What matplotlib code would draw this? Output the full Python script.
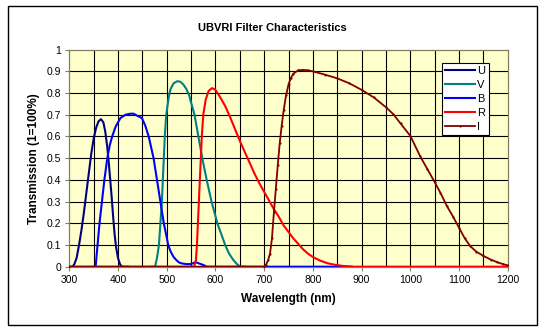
import matplotlib.pyplot as plt
from matplotlib.patches import Rectangle

plt.rcParams['font.family'] = ['Liberation Sans', 'DejaVu Sans']

# Filter transmission curves
u_nm = [300, 306, 310, 315, 320, 325, 330, 335, 340, 345, 350, 355, 360, 365, 370,
        374, 378, 381, 384, 387, 390, 393, 396, 400, 404, 408, 420]
u_t = [0, 0, 0.01, 0.04, 0.1, 0.17, 0.25, 0.34, 0.43, 0.52, 0.59, 0.64, 0.67, 0.68, 0.665,
       0.62, 0.55, 0.48, 0.40, 0.32, 0.23, 0.15, 0.09, 0.04, 0.012, 0, 0]

v_nm = [470, 476, 480, 484, 487, 490, 492, 494, 496, 499, 504, 508, 514, 522, 528, 534,
        540, 546, 552, 557, 565, 573, 582, 592, 604, 612, 620, 628, 637, 645, 651, 660]
v_t = [0, 0, 0.04, 0.1, 0.2, 0.3, 0.4, 0.5, 0.6, 0.7, 0.78, 0.82, 0.845, 0.855, 0.852, 0.84,
       0.82, 0.79, 0.74, 0.7, 0.6, 0.5, 0.4, 0.3, 0.2, 0.15, 0.1, 0.06, 0.03, 0.01, 0, 0]

b_nm = [350, 354, 356, 358, 362, 367, 372, 378, 383, 388, 395, 405, 415, 425, 432, 440,
        449, 456, 463, 468, 473, 480, 487, 494, 500, 503, 508, 514, 520, 525, 531, 540,
        548, 553, 558, 563, 570, 575, 582, 880]
b_t = [0, 0, 0.05, 0.1, 0.2, 0.3, 0.4, 0.5, 0.56, 0.6, 0.645, 0.685, 0.7, 0.705, 0.705, 0.695,
       0.685, 0.65, 0.6, 0.55, 0.5, 0.4, 0.3, 0.2, 0.135, 0.1, 0.07, 0.045, 0.03, 0.02, 0.015, 0.012,
       0.012, 0.015, 0.02, 0.018, 0.012, 0.008, 0, 0]

r_nm = [300, 556, 560, 562, 564, 566, 568, 570, 572, 575, 580, 586, 593, 600, 610, 620,
        630, 640, 650, 660, 670, 680, 690, 700, 710, 720, 730, 740, 750, 760, 770, 780,
        790, 800, 815, 830, 845, 860, 880, 1200]
r_t = [0, 0, 0.03, 0.1, 0.2, 0.3, 0.4, 0.5, 0.6, 0.7, 0.77, 0.81, 0.823, 0.815, 0.78, 0.74,
       0.69, 0.635, 0.58, 0.53, 0.48, 0.43, 0.385, 0.345, 0.305, 0.265, 0.23, 0.19, 0.16, 0.13,
       0.105, 0.08, 0.06, 0.045, 0.028, 0.016, 0.009, 0.004, 0, 0]

i_nm = [300, 700, 704, 708, 712, 716, 720, 724, 728, 732, 736, 740, 745, 750, 755, 760,
        770, 780, 790, 800, 825, 850, 875, 900, 925, 950, 965, 980, 1000, 1020, 1035, 1050,
        1062, 1075, 1088, 1100, 1112, 1123, 1135, 1150, 1165, 1177, 1190, 1200]
i_t = [0, 0, 0.01, 0.03, 0.06, 0.13, 0.25, 0.36, 0.47, 0.57, 0.65, 0.72, 0.79, 0.84, 0.87, 0.89,
       0.905, 0.907, 0.905, 0.9, 0.885, 0.868, 0.845, 0.815, 0.78, 0.735, 0.703, 0.66, 0.603, 0.51,
       0.45, 0.39, 0.34, 0.28, 0.23, 0.18, 0.13, 0.095, 0.07, 0.05, 0.033, 0.022, 0.012, 0.006]

fig = plt.figure(figsize=(5.44, 3.34), dpi=100)
ax = fig.add_axes([0.1274, 0.2015, 0.8059, 0.6497])
ax.set_facecolor('#FFFFCC')

# grid every 50 nm / 0.1
for x in range(350, 1200, 50):
    ax.axvline(x, color='black', lw=0.8, zorder=1)
for k in range(1, 10):
    ax.axhline(k / 10, color='black', lw=0.8, zorder=1)

ax.plot(u_nm, u_t, color='#000080', lw=1.5, label='U', zorder=3)
ax.plot(v_nm, v_t, color='#008080', lw=1.5, label='V', zorder=3)
ax.plot(b_nm, b_t, color='#0000FF', lw=1.5, label='B', zorder=3)
ax.plot(r_nm, r_t, color='#FF0000', lw=1.5, label='R', zorder=3)
ax.plot(i_nm, i_t, color='#800000', lw=1.3, marker='.', markersize=1.2, label='I', zorder=3)

ax.set_xlim(300, 1200)
ax.set_ylim(0, 1)
ax.set_xticks(range(300, 1201, 100))
ax.set_yticks([k / 10 for k in range(11)])
ax.set_yticklabels(['0'] + ['0.%d' % k for k in range(1, 10)] + ['1'])
ax.tick_params(labelsize=7.5, length=3, width=0.8, color='#808060', pad=3)
for side in ['left', 'bottom', 'top', 'right']:
    ax.spines[side].set_color('#808060')
    ax.spines[side].set_linewidth(0.9)

ax.set_xlabel('Wavelength (nm)', fontsize=8.5, fontweight='bold', labelpad=6)
ax.set_ylabel('Transmission (1=100%)', fontsize=8.5, fontweight='bold', labelpad=5)
fig.text(0.5, 1 - 28 / 334, 'UBVRI Filter Characteristics', ha='center', va='center',
         fontsize=8, fontweight='bold')

leg = ax.legend(loc='upper left', bbox_to_anchor=(441.7 / 544, 1 - 62.7 / 334),
                bbox_transform=fig.transFigure, fontsize=8, frameon=True, fancybox=False,
                borderaxespad=0, borderpad=0.3, labelspacing=0.35, handlelength=2.7,
                handletextpad=0.2)
leg.get_frame().set_edgecolor('black')
leg.get_frame().set_linewidth(0.8)
leg.get_frame().set_alpha(1)

# outer chart frame
fig.patches.append(Rectangle((8 / 544, 1 - 325 / 334), 529 / 544, 319 / 334,
                             transform=fig.transFigure, fill=False, ec='black', lw=1))

fig.savefig('out.png', dpi=100)
